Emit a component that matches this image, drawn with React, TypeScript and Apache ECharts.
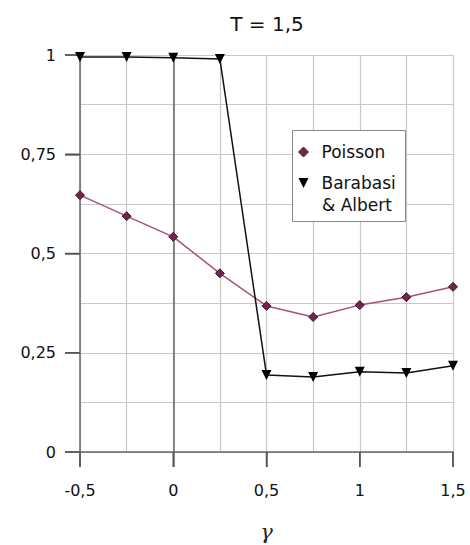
import React, { useEffect, useRef } from "react";
import * as echarts from "echarts";

const gammaValues = [-0.5, -0.25, 0, 0.25, 0.5, 0.75, 1, 1.25, 1.5];
const poissonValues = [0.647, 0.594, 0.542, 0.45, 0.368, 0.34, 0.37, 0.39, 0.416];
const barabasiValues = [0.995, 0.995, 0.993, 0.99, 0.194, 0.189, 0.202, 0.199, 0.217];
const xTickValues = [-0.5, 0, 0.5, 1, 1.5];
const yTickValues = [0, 0.25, 0.5, 0.75, 1];
const titleText = "T = 1,5";
const seriesNames = ["Poisson", "Barabasi & Albert"];
const legendLines = ["Barabasi", "& Albert"];

const TRI_DOWN = "path://M0,0 L10,0 L5,10 Z";
const fmt = (v: number) => String(v).replace(".", ",");

export default function App() {
  const ref = useRef<HTMLDivElement>(null);
  useEffect(() => {
    if (!ref.current) return;
    const chart = echarts.init(ref.current, undefined, { renderer: "svg" });
    const font = "DejaVu Sans";
    const tickStyle = { stroke: "#555", lineWidth: 1.5 };
    chart.setOption({
      animation: false,
      backgroundColor: "#ffffff",
      title: {
        text: titleText,
        left: 262,
        top: 9,
        textAlign: "center",
        textStyle: { fontFamily: font, fontSize: 20, fontWeight: "normal", color: "#111" },
      },
      graphic: [
        {
          type: "rect",
          shape: { x: 292.5, y: 130.5, width: 113, height: 91 },
          style: { fill: "#fff", stroke: "#888", lineWidth: 1 },
          z: 10,
        },
        {
          type: "text",
          left: 322,
          top: 196,
          style: { text: legendLines[1], fontFamily: font, fontSize: 17, fill: "#111" },
          z: 11,
        },
      ],
      legend: {
        orient: "vertical",
        left: 298,
        top: 142,
        padding: 0,
        itemGap: 11,
        itemWidth: 10,
        itemHeight: 10,
        z: 12,
        formatter: (name: string) => (name === seriesNames[1] ? legendLines[0] : name),
        textStyle: { fontFamily: font, fontSize: 17, color: "#111", lineHeight: 20, padding: [0, 0, 0, 8] },
        data: [
          { name: seriesNames[0], icon: "diamond", itemStyle: { color: "#7a1f50", borderColor: "#333", borderWidth: 1 } },
          { name: seriesNames[1], icon: TRI_DOWN, itemStyle: { color: "#000" } },
        ],
      },
      grid: { left: 80, right: 17, top: 55, bottom: 93, outerBoundsMode: "none", containLabel: false },
      xAxis: {
        type: "value",
        min: -0.5,
        max: 1.5,
        interval: 0.5,
        name: "γ",
        nameLocation: "middle",
        nameGap: 69,
        nameTextStyle: { fontFamily: "DejaVu Serif", fontStyle: "italic", fontSize: 21, color: "#222" },
        axisLine: { show: true, onZero: false, lineStyle: { color: "#666", width: 1.5 } },
        axisTick: { show: true, length: 15, lineStyle: { color: "#666", width: 1.5 } },
        axisLabel: { show: true, formatter: fmt, fontFamily: font, fontSize: 16, color: "#111", margin: 30 },
        splitLine: { show: true, lineStyle: { color: "#c8c8c8", width: 1.2 } },
        minorTick: { show: false, splitNumber: 2 },
        minorSplitLine: { show: true, lineStyle: { color: "#c8c8c8", width: 1.2 } },
      },
      yAxis: {
        type: "value",
        min: 0,
        max: 1,
        interval: 0.25,
        axisLine: { show: true, onZero: false, lineStyle: { color: "#666", width: 1.5 } },
        axisTick: { show: true, length: 15, lineStyle: { color: "#666", width: 1.5 } },
        axisLabel: { show: true, formatter: fmt, fontFamily: font, fontSize: 16, color: "#111", margin: 24 },
        splitLine: { show: true, lineStyle: { color: "#c8c8c8", width: 1.2 } },
        minorTick: { show: false, splitNumber: 2 },
        minorSplitLine: { show: true, lineStyle: { color: "#c8c8c8", width: 1.2 } },
      },
      series: [
        {
          type: "custom",
          silent: true,
          clip: false,
          z: 2,
          data: yTickValues.map((v) => [-0.5, v]),
          renderItem: (_p: any, api: any) => {
            const pt = api.coord([api.value(0), api.value(1)]);
            return {
              type: "line",
              shape: { x1: pt[0] - 15, y1: pt[1], x2: pt[0], y2: pt[1] },
              style: tickStyle,
            };
          },
        },
        {
          type: "custom",
          silent: true,
          clip: false,
          z: 2,
          data: xTickValues.map((v) => [v, 0]),
          renderItem: (_p: any, api: any) => {
            const pt = api.coord([api.value(0), api.value(1)]);
            return {
              type: "line",
              shape: { x1: pt[0], y1: pt[1], x2: pt[0], y2: pt[1] + 15 },
              style: tickStyle,
            };
          },
        },
        {
          name: seriesNames[0],
          type: "line",
          data: gammaValues.map((g, i) => [g, poissonValues[i]]),
          symbol: "diamond",
          symbolSize: 9,
          lineStyle: { color: "#a8507c", width: 1.5 },
          itemStyle: { color: "#7a1f50", borderColor: "#222", borderWidth: 1 },
          z: 3,
          markLine: {
            silent: true,
            symbol: "none",
            label: { show: false },
            lineStyle: { color: "#666", width: 1.5, type: "solid" },
            data: [{ xAxis: 0 }],
            z: 1,
          },
        },
        {
          name: seriesNames[1],
          type: "line",
          data: gammaValues.map((g, i) => [g, barabasiValues[i]]),
          symbol: TRI_DOWN,
          symbolSize: 10,
          lineStyle: { color: "#111", width: 1.5 },
          itemStyle: { color: "#000" },
          z: 4,
        },
      ],
    });
    return () => chart.dispose();
  }, []);
  return (
    <div
      ref={ref}
      style={{ position: "absolute", left: 0, top: 0, width: 470, height: 545 }}
    />
  );
}
